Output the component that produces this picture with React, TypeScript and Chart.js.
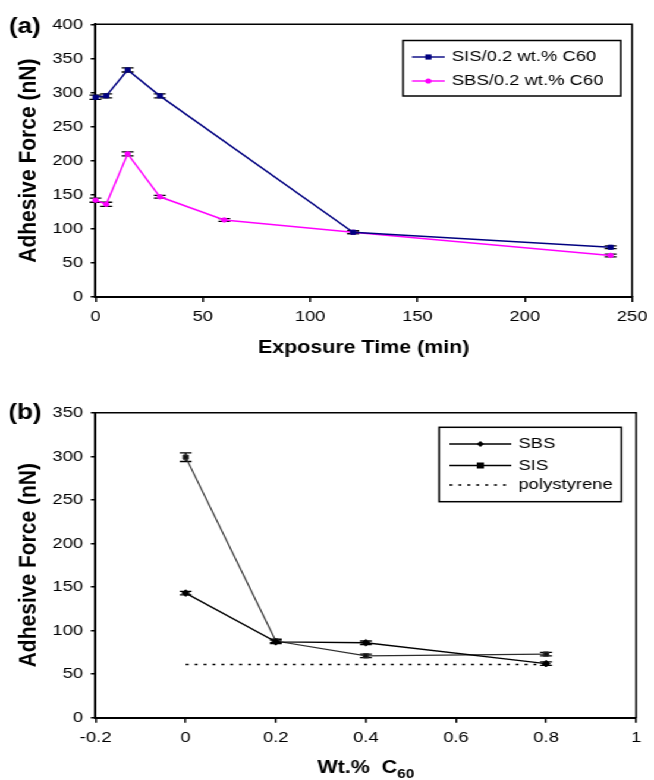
import React, { useEffect, useRef } from 'react';
import { Chart, registerables } from 'chart.js';

Chart.register(...registerables);

const FONT = '"Liberation Sans", Arial, Helvetica, sans-serif';

// The figure is laid out on a 550px-wide canvas and widened to the page width.
const PAGE_W = 654;
const CANVAS_W = 550;
const STRETCH = PAGE_W / CANVAS_W;

// ---- Panel (a): adhesive force against UV exposure time ----
const sisTimes = [0, 5, 15, 30, 120, 240];
const sisForceA = [293, 295, 333, 295, 95, 73];
const sisErrA = [3, 3, 3, 3, 2, 2];

const sbsTimes = [0, 5, 15, 30, 60, 120, 240];
const sbsForceA = [142, 136, 210, 147, 113, 95, 61];
const sbsErrA = [3, 3, 3, 2, 2, 2, 2];

const timeTicks = [0, 50, 100, 150, 200, 250];
const forceTicksA = [0, 50, 100, 150, 200, 250, 300, 350, 400];
const legendLabelsA = ['SIS/0.2 wt.% C60', 'SBS/0.2 wt.% C60'];

// ---- Panel (b): adhesive force against fullerene loading ----
const c60Loadings = [0, 0.2, 0.4, 0.8];
const sbsForceB = [143, 87, 86, 62];
const sbsErrB = [2, 2, 2, 2];
const sisForceB = [299, 88, 71, 73];
const sisErrB = [5, 2, 2, 2];
const polystyreneLoadings = [0, 0.8];
const polystyreneForce = [61, 61];

const loadingTicks = [-0.2, 0, 0.2, 0.4, 0.6, 0.8, 1];
const forceTicksB = [0, 50, 100, 150, 200, 250, 300, 350];
const legendLabelsB = ['SBS', 'SIS', 'polystyrene'];

const toPoints = (xs: number[], ys: number[]) => xs.map((x, i) => ({ x, y: ys[i] }));

type Marker = 'square' | 'circle' | 'diamond' | 'none';

function drawMarker(ctx: CanvasRenderingContext2D, kind: Marker, x: number, y: number, r: number, color: string) {
  ctx.fillStyle = color;
  ctx.beginPath();
  if (kind === 'square') {
    ctx.rect(x - r, y - r, 2 * r, 2 * r);
  } else if (kind === 'circle') {
    ctx.arc(x, y, r, 0, Math.PI * 2);
  } else if (kind === 'diamond') {
    ctx.moveTo(x, y - r);
    ctx.lineTo(x + r, y);
    ctx.lineTo(x, y + r);
    ctx.lineTo(x - r, y);
    ctx.closePath();
  } else {
    return;
  }
  ctx.fill();
}

// Vertical error bars with caps, drawn under the markers.
const errorBarPlugin = {
  id: 'errorBars',
  beforeDatasetsDraw(chart: any) {
    const ctx: CanvasRenderingContext2D = chart.ctx;
    const yScale = chart.scales.y;
    ctx.save();
    ctx.strokeStyle = '#000';
    ctx.lineWidth = 1.3;
    chart.data.datasets.forEach((ds: any, i: number) => {
      if (!ds.errors) return;
      const meta = chart.getDatasetMeta(i);
      meta.data.forEach((el: any, j: number) => {
        const v = ds.data[j].y;
        const e = ds.errors[j];
        const top = yScale.getPixelForValue(v + e);
        const bot = yScale.getPixelForValue(v - e);
        const cap = 5;
        ctx.beginPath();
        ctx.moveTo(el.x, top);
        ctx.lineTo(el.x, bot);
        ctx.moveTo(el.x - cap, top);
        ctx.lineTo(el.x + cap, top);
        ctx.moveTo(el.x - cap, bot);
        ctx.lineTo(el.x + cap, bot);
        ctx.stroke();
      });
    });
    ctx.restore();
  },
};

// Top and right edges of the plot frame.
const framePlugin = {
  id: 'frame',
  afterDraw(chart: any) {
    const { ctx, chartArea } = chart;
    ctx.save();
    ctx.strokeStyle = '#000';
    ctx.lineWidth = 1.5;
    ctx.beginPath();
    ctx.moveTo(chartArea.left, chartArea.top);
    ctx.lineTo(chartArea.right, chartArea.top);
    ctx.lineTo(chartArea.right, chartArea.bottom);
    ctx.stroke();
    ctx.restore();
  },
};

interface LegendItem {
  label: string;
  color: string;
  marker: Marker;
  dash?: number[];
}

interface LegendBox {
  left: number;
  top: number;
  right: number;
  bottom: number;
  rows: number[];
  lineStart: number;
  lineEnd: number;
  textX: number;
  markerSize: number;
}

function makeLegendPlugin(box: LegendBox, items: LegendItem[]) {
  return {
    id: 'boxedLegend',
    afterDraw(chart: any) {
      const ctx: CanvasRenderingContext2D = chart.ctx;
      ctx.save();
      ctx.fillStyle = '#fff';
      ctx.fillRect(box.left, box.top, box.right - box.left, box.bottom - box.top);
      ctx.strokeStyle = '#000';
      ctx.lineWidth = 1.5;
      ctx.strokeRect(box.left, box.top, box.right - box.left, box.bottom - box.top);
      items.forEach((it, i) => {
        const y = box.rows[i];
        ctx.strokeStyle = it.color;
        ctx.lineWidth = it.dash ? 1.5 : 1.4;
        ctx.setLineDash(it.dash || []);
        ctx.beginPath();
        ctx.moveTo(box.lineStart, y);
        ctx.lineTo(box.lineEnd, y);
        ctx.stroke();
        ctx.setLineDash([]);
        drawMarker(ctx, it.marker, (box.lineStart + box.lineEnd) / 2, y, box.markerSize, it.color);
        ctx.fillStyle = '#000';
        ctx.font = `15.5px ${FONT}`;
        ctx.textAlign = 'left';
        ctx.textBaseline = 'middle';
        ctx.fillText(it.label, box.textX, y);
      });
      ctx.restore();
    },
  };
}

function makePanelTagPlugin(tag: string, x: number, baseline: number) {
  return {
    id: 'panelTag',
    afterDraw(chart: any) {
      const ctx: CanvasRenderingContext2D = chart.ctx;
      ctx.save();
      ctx.fillStyle = '#000';
      ctx.font = `bold 22px ${FONT}`;
      ctx.textAlign = 'left';
      ctx.textBaseline = 'alphabetic';
      ctx.fillText(tag, x, baseline);
      ctx.restore();
    },
  };
}

// x-axis title of panel (b), with the subscript on C60
const loadingTitleMain = 'Wt.%  C';
const loadingTitleSub = '60';
const loadingTitlePlugin = {
  id: 'loadingTitle',
  afterDraw(chart: any) {
    const ctx: CanvasRenderingContext2D = chart.ctx;
    const { left, right } = chart.chartArea;
    const baseline = 403;
    ctx.save();
    ctx.fillStyle = '#000';
    ctx.textBaseline = 'alphabetic';
    ctx.textAlign = 'left';
    ctx.font = `bold 18px ${FONT}`;
    const w1 = ctx.measureText(loadingTitleMain).width;
    ctx.font = `bold 13px ${FONT}`;
    const w2 = ctx.measureText(loadingTitleSub).width;
    const x0 = (left + right) / 2 - (w1 + w2) / 2;
    ctx.font = `bold 18px ${FONT}`;
    ctx.fillText(loadingTitleMain, x0, baseline);
    ctx.font = `bold 13px ${FONT}`;
    ctx.fillText(loadingTitleSub, x0 + w1, baseline + 5);
    ctx.restore();
  },
};

const tickFont = { family: FONT, size: 15.5 };

function axisX(min: number, max: number, ticks: number[], height: number, title?: string) {
  return {
    type: 'linear',
    min,
    max,
    afterBuildTicks: (s: any) => {
      s.ticks = ticks.map((v) => ({ value: v }));
    },
    afterFit: (s: any) => {
      s.height = height;
    },
    ticks: {
      color: '#000',
      font: tickFont,
      padding: 5.5,
      maxRotation: 0,
      autoSkip: false,
      callback: (v: number) => String(v),
    },
    grid: { drawOnChartArea: false, drawTicks: true, tickLength: 5, color: '#000', lineWidth: 1.5 },
    border: { display: true, color: '#000', width: 2 },
    title: title
      ? {
          display: true,
          text: title,
          color: '#000',
          font: { family: FONT, size: 18, weight: 'bold' },
          padding: { top: 0, bottom: 11.2 },
        }
      : { display: false },
  };
}

function axisY(max: number, ticks: number[], width: number) {
  return {
    type: 'linear',
    min: 0,
    max,
    afterBuildTicks: (s: any) => {
      s.ticks = ticks.map((v) => ({ value: v }));
    },
    afterFit: (s: any) => {
      s.width = width;
    },
    ticks: {
      color: '#000',
      font: tickFont,
      padding: 6.5,
      autoSkip: false,
      callback: (v: number) => String(v),
    },
    grid: { drawOnChartArea: false, drawTicks: true, tickLength: 4, color: '#000', lineWidth: 1.5 },
    border: { display: true, color: '#000', width: 2 },
    title: {
      display: true,
      text: 'Adhesive Force (nN)',
      color: '#000',
      font: { family: FONT, size: 21, weight: 'bold' },
      padding: { top: 11.8, bottom: 0 },
    },
  };
}

function buildPanelA(): any {
  return {
    type: 'line',
    data: {
      datasets: [
        {
          label: legendLabelsA[0],
          data: toPoints(sisTimes, sisForceA),
          errors: sisErrA,
          borderColor: '#000080',
          backgroundColor: '#000080',
          borderWidth: 1.5,
          pointStyle: 'rect',
          pointRadius: 2.9,
          pointBorderWidth: 1,
          tension: 0,
          clip: false,
        },
        {
          label: legendLabelsA[1],
          data: toPoints(sbsTimes, sbsForceA),
          errors: sbsErrA,
          borderColor: '#ff00ff',
          backgroundColor: '#ff00ff',
          borderWidth: 1.5,
          pointStyle: 'circle',
          pointRadius: 2.2,
          pointBorderWidth: 1,
          tension: 0,
          clip: false,
        },
      ],
    },
    options: {
      responsive: false,
      animation: false,
      devicePixelRatio: 1,
      layout: { padding: { top: 24.3, right: 14.7, left: 0, bottom: 0 } },
      plugins: { legend: { display: false }, tooltip: { enabled: false } },
      scales: {
        x: axisX(0, 250, timeTicks, 73, 'Exposure Time (min)'),
        y: axisY(400, forceTicksA, 80.3),
      },
    },
    plugins: [
      errorBarPlugin,
      framePlugin,
      makeLegendPlugin(
        {
          left: 338.9,
          top: 40.5,
          right: 522,
          bottom: 96,
          rows: [57, 81],
          lineStart: 346.5,
          lineEnd: 374,
          textX: 380,
          markerSize: 2.6,
        },
        [
          { label: legendLabelsA[0], color: '#000080', marker: 'square' },
          { label: legendLabelsA[1], color: '#ff00ff', marker: 'circle' },
        ]
      ),
      makePanelTagPlugin('(a)', 7.5, 33),
    ],
  };
}

function buildPanelB(): any {
  return {
    type: 'line',
    data: {
      datasets: [
        {
          label: legendLabelsB[0],
          data: toPoints(c60Loadings, sbsForceB),
          errors: sbsErrB,
          borderColor: '#000',
          backgroundColor: '#000',
          borderWidth: 1.4,
          pointStyle: 'rectRot',
          pointRadius: 3.3,
          pointBorderWidth: 1,
          tension: 0,
          clip: false,
        },
        {
          label: legendLabelsB[1],
          data: toPoints(c60Loadings, sisForceB),
          errors: sisErrB,
          borderColor: '#2e2e2e',
          backgroundColor: '#111',
          borderWidth: 1.2,
          pointStyle: 'rect',
          pointRadius: 3,
          pointBorderWidth: 1,
          tension: 0,
          clip: false,
        },
        {
          label: legendLabelsB[2],
          data: toPoints(polystyreneLoadings, polystyreneForce),
          borderColor: '#000',
          borderWidth: 1.5,
          borderDash: [2.5, 5],
          pointRadius: 0,
          tension: 0,
          clip: false,
        },
      ],
    },
    options: {
      responsive: false,
      animation: false,
      devicePixelRatio: 1,
      layout: { padding: { top: 42.7, right: 15, left: 0, bottom: 0 } },
      plugins: { legend: { display: false }, tooltip: { enabled: false } },
      scales: {
        x: axisX(-0.2, 1, loadingTicks, 62.3),
        y: axisY(350, forceTicksB, 80.4),
      },
    },
    plugins: [
      errorBarPlugin,
      framePlugin,
      makeLegendPlugin(
        {
          left: 369.3,
          top: 57.3,
          right: 522.5,
          bottom: 131.7,
          rows: [74, 95.5, 115],
          lineStart: 378,
          lineEnd: 430,
          textX: 436,
          markerSize: 3,
        },
        [
          { label: legendLabelsB[0], color: '#000', marker: 'diamond' },
          { label: legendLabelsB[1], color: '#000', marker: 'square' },
          { label: legendLabelsB[2], color: '#000', marker: 'none', dash: [2.5, 5] },
        ]
      ),
      makePanelTagPlugin('(b)', 7, 48.5),
      loadingTitlePlugin,
    ],
  };
}

export default function App() {
  const refA = useRef<HTMLCanvasElement>(null);
  const refB = useRef<HTMLCanvasElement>(null);

  useEffect(() => {
    const chartA = new Chart(refA.current as HTMLCanvasElement, buildPanelA());
    const chartB = new Chart(refB.current as HTMLCanvasElement, buildPanelB());
    return () => {
      chartA.destroy();
      chartB.destroy();
    };
  }, []);

  return (
    <div
      style={{
        position: 'absolute',
        left: 0,
        top: 0,
        width: CANVAS_W,
        height: 780,
        background: '#fff',
        transform: `scaleX(${STRETCH})`,
        transformOrigin: '0 0',
      }}
    >
      <canvas
        ref={refA}
        width={CANVAS_W}
        height={370}
        style={{ position: 'absolute', left: 0, top: 0, width: CANVAS_W, height: 370 }}
      />
      <canvas
        ref={refB}
        width={CANVAS_W}
        height={410}
        style={{ position: 'absolute', left: 0, top: 370, width: CANVAS_W, height: 410 }}
      />
    </div>
  );
}
